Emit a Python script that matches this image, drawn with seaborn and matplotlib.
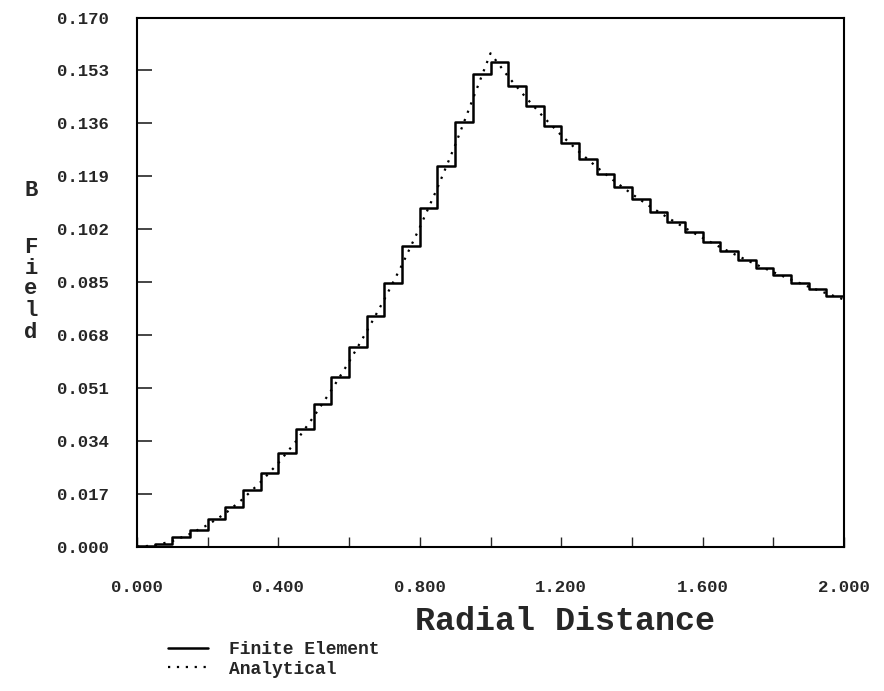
import numpy as np
import pandas as pd
import matplotlib
matplotlib.use("Agg")
import matplotlib.pyplot as plt
import seaborn as sns

# Element edges (radial distance) and finite-element step values
r_edges = np.round(np.arange(0.0, 2.0001, 0.05), 3)
fe_values = [
    0.0002, 0.0010, 0.0030, 0.0055, 0.0088, 0.0129, 0.0181, 0.0238, 0.0302, 0.0377,
    0.0460, 0.0546, 0.0642, 0.0742, 0.0848, 0.0967, 0.1087, 0.1223, 0.1363, 0.1518,
    0.1556, 0.1480, 0.1416, 0.1352, 0.1296, 0.1244, 0.1197, 0.1155, 0.1116, 0.1074,
    0.1044, 0.1012, 0.0980, 0.0950, 0.0921, 0.0896, 0.0872, 0.0848, 0.0827, 0.0806,
]
# Analytical curve values at the element nodes
an_values = [
    0.0000, 0.0004, 0.0018, 0.0041, 0.0070, 0.0107, 0.0154, 0.0208, 0.0269, 0.0339,
    0.0418, 0.0503, 0.0594, 0.0692, 0.0795, 0.0906, 0.1026, 0.1153, 0.1290, 0.1438,
    0.1585, 0.1510, 0.1443, 0.1380, 0.1322, 0.1269, 0.1220, 0.1175, 0.1133, 0.1094,
    0.1058, 0.1024, 0.0992, 0.0962, 0.0934, 0.0907, 0.0882, 0.0858, 0.0835, 0.0814,
    0.0794,
]
y_ticks = [0.000, 0.017, 0.034, 0.051, 0.068, 0.085, 0.102, 0.119, 0.136, 0.153, 0.170]
x_major = [0.0, 0.4, 0.8, 1.2, 1.6, 2.0]
x_minor = [0.2, 0.6, 1.0, 1.4, 1.8]

fe_df = pd.DataFrame({"r": r_edges, "B": fe_values + [fe_values[-1]]})
an_df = pd.DataFrame({"r": r_edges, "B": an_values})

sns.set_style("ticks")
MONO = ["Liberation Mono", "DejaVu Sans Mono"]
plt.rcParams["font.family"] = MONO

fig = plt.figure(figsize=(8.84, 6.91), dpi=100)
ax = fig.add_axes([137 / 884, 1 - 546.7 / 691, (844 - 137) / 884, (546.7 - 17.5) / 691])

sns.lineplot(data=fe_df, x="r", y="B", ax=ax, color="black", lw=1.8,
             drawstyle="steps-post", estimator=None, label="Finite Element")
sns.lineplot(data=an_df, x="r", y="B", ax=ax, color="black", lw=1.6,
             linestyle=(0, (1, 3)), estimator=None, label="Analytical")

ax.set_xlim(0, 2.0)
ax.set_ylim(0, 0.170)
ax.set_yticks(y_ticks)
ax.set_yticklabels([f"{v:.3f}" for v in y_ticks])
ax.set_xticks(x_major)
ax.set_xticklabels([f"{v:.3f}" for v in x_major])
ax.set_xticks(x_minor, minor=True)
ax.tick_params(axis="y", direction="in", length=11, width=1.2, pad=20, labelsize=12.5)
ax.tick_params(axis="x", which="both", direction="in", length=7, width=1.0, pad=24, labelsize=12.5)
for lab in ax.get_xticklabels() + ax.get_yticklabels():
    lab.set_fontweight("bold")
for s in ax.spines.values():
    s.set_linewidth(1.5)
    s.set_color("black")

ax.set_xlabel("")
ax.set_ylabel("")
fig.text(565 / 884, 1 - 621 / 691, "Radial Distance", ha="center", va="center",
         fontsize=24, fontweight="bold", family=MONO)
for ch, yy in zip("BField", [190, 247, 268, 289, 311, 333]):
    fig.text(31 / 884, 1 - yy / 691, ch, ha="center", va="center",
             fontsize=16, fontweight="bold", family=MONO)

ax.get_legend().remove()
handles, labels = ax.get_legend_handles_labels()
fig.legend(handles, labels, loc="upper left", bbox_to_anchor=(168 / 884, 1 - 641 / 691),
           frameon=False, borderpad=0, borderaxespad=0, handlelength=2.2,
           handletextpad=1.2, labelspacing=0.15,
           prop={"family": MONO, "weight": "bold", "size": 13})

fig.savefig("out.png", dpi=100)
